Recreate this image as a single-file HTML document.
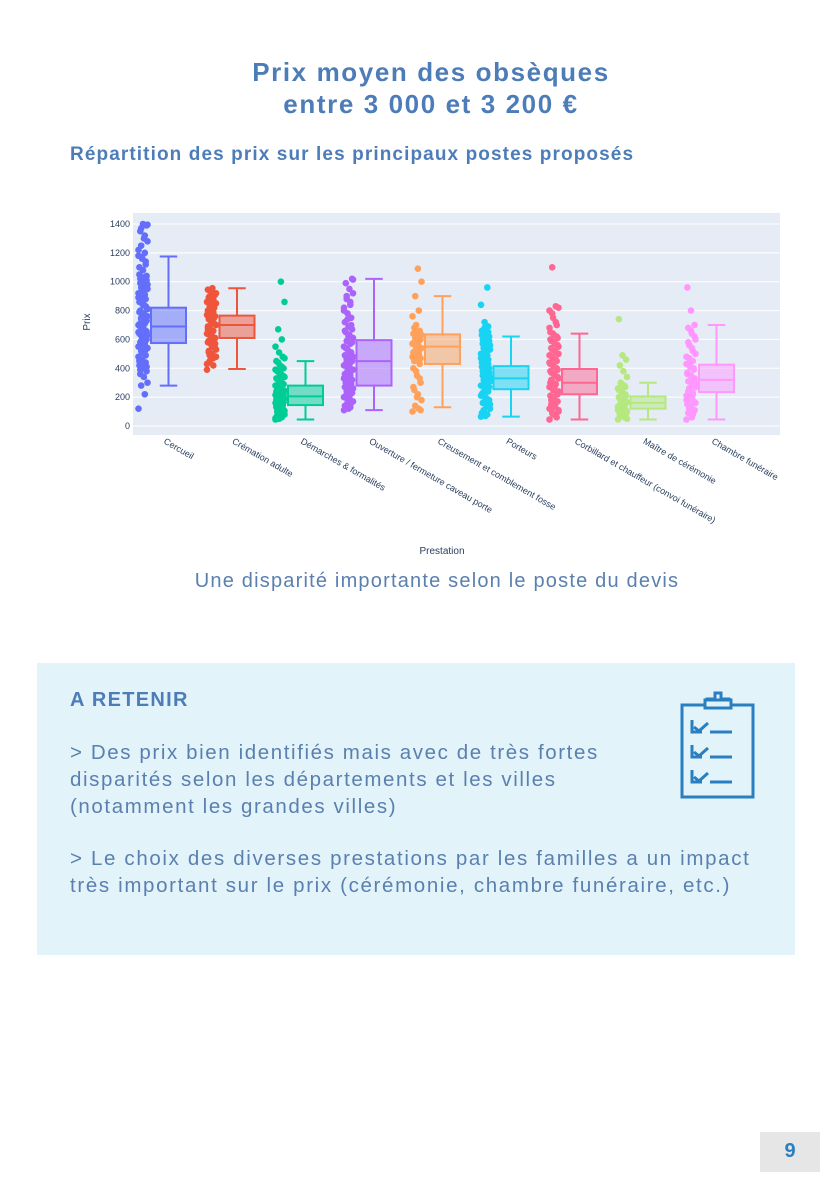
<!DOCTYPE html>
<html><head><meta charset="utf-8">
<style>
body{margin:0;background:#fff;}
#page{position:relative;width:838px;height:1190px;overflow:hidden;font-family:"Liberation Sans",sans-serif;color:#4a7ab5;}
.t{position:absolute;white-space:nowrap;}
</style></head><body>
<div id="page">
<div class="t" style="left:0;width:862px;text-align:center;top:56px;font-size:26px;font-weight:bold;line-height:32px;letter-spacing:1.6px;color:#4d7db8;">Prix moyen des obsèques<br>entre 3 000 et 3 200 €</div>
<div class="t" style="left:70px;top:144px;font-size:19px;font-weight:bold;letter-spacing:1.1px;color:#4d7db8;">Répartition des prix sur les principaux postes proposés</div>
<svg id="chart" width="838" height="560" style="position:absolute;left:0;top:0;"></svg>
<div class="t" style="left:0;width:874px;text-align:center;top:570px;font-size:20px;letter-spacing:1.2px;color:#5a80b0;">Une disparité importante selon le poste du devis</div>
<div style="position:absolute;left:37px;top:663px;width:758px;height:292px;background:#e3f3fa;">
<div class="t" style="left:33px;top:26px;font-size:20px;font-weight:bold;letter-spacing:1.3px;color:#4d7db8;">A RETENIR</div>
<div class="t" style="left:33px;top:76px;font-size:20.5px;line-height:27px;letter-spacing:1.6px;color:#5a80b0;">&gt; Des prix bien identifiés mais avec de très fortes<br>disparités selon les départements et les villes<br>(notamment les grandes villes)</div>
<div class="t" style="left:33px;top:182px;font-size:20.5px;line-height:27px;letter-spacing:1.65px;color:#5a80b0;">&gt; Le choix des diverses prestations par les familles a un impact<br>très important sur le prix (cérémonie, chambre funéraire, etc.)</div>
<svg width="90" height="120" style="position:absolute;left:640px;top:25px;" fill="none" stroke="#2a7fc0" stroke-width="3">
<rect x="5" y="17" width="71" height="92"/>
<path d="M30 17 v-6 h8 v-6 h6 v6 h8 v6"/><rect x="28" y="12" width="26" height="8" fill="#e3f3fa"/>
<path d="M15 32 v12 h10 M17 39 l5 4 l9 -8 M33 44 h22"/>
<path d="M15 57 v12 h10 M17 64 l5 4 l9 -8 M33 69 h22"/>
<path d="M15 82 v12 h10 M17 89 l5 4 l9 -8 M33 94 h22"/>
</svg>
</div>
<div style="position:absolute;left:760px;top:1132px;width:60px;height:40px;background:#e6e6e6;"></div>
<div class="t" style="left:760px;width:60px;text-align:center;top:1140px;font-size:20px;font-weight:bold;color:#2a7fc0;">9</div>
</div>
<script>
const categories=["Cercueil","Crémation adulte","Démarches & formalités","Ouverture / fermeture caveau porte","Creusement et comblement fosse","Porteurs","Corbillard et chauffeur (convoi funéraire)","Maître de cérémonie","Chambre funéraire"];
const colors=["#636efa","#EF553B","#00cc96","#ab63fa","#FFA15A","#19d3f3","#FF6692","#B6E880","#FF97FF"];
const lowWhisker=[280,395,45,110,130,65,45,45,45];
const q1=[575,610,145,280,430,255,220,120,235];
const median=[690,700,205,450,550,330,300,160,320];
const q3=[820,765,280,595,635,415,395,205,425];
const highWhisker=[1175,955,450,1020,900,620,640,300,700];
const points=[
[120,220,280,300,340,360,380,400,420,440,460,480,500,520,540,560,580,600,620,640,660,680,700,720,740,760,780,800,820,840,860,880,900,920,940,960,980,1000,1020,1040,1080,1100,1140,1160,1180,1200,1250,1280,1300,1350,1390,1400,470,530,610,650,710,750,810,870,390,410,430,450,490,510,550,570,590,630,670,690,730,770,790,830,850,890,910,930,950,970,990,1010,1030,1050,1120,1170,1220,1320,1370,1395,615,635,655,685,705,725,745],
[390,420,450,480,500,520,540,560,580,600,620,640,660,680,700,720,740,760,780,800,820,840,860,880,900,920,955,510,570,630,690,750,810,430,470,490,530,550,590,610,650,670,710,730,770,790,830,850,870,890,910,930,945],
[45,60,70,80,90,100,110,120,130,140,150,160,170,180,190,200,210,220,230,240,250,260,280,300,320,340,360,380,400,420,450,480,510,550,600,670,860,1000,75,95,115,135,155,50,55,65,85,105,125,145,165,175,185,195,205,215,225,235,245,255,270,290,310,330,350,370,390,410,440,470],
[110,130,150,170,190,210,230,250,270,290,310,330,350,370,390,410,430,450,470,490,510,530,550,570,590,610,630,650,670,690,720,750,780,800,840,880,920,950,990,1020,120,140,160,180,200,220,240,260,280,300,320,340,360,380,400,420,440,460,480,500,540,580,620,660,700,740,820,860,900,1015],
[100,120,140,180,220,250,300,350,400,430,460,480,500,520,540,560,580,600,620,640,660,700,760,800,900,1000,1090,450,470,490,510,530,550,570,590,610,630,650,680,110,200,270,330,380],
[65,80,100,120,140,160,180,200,220,240,260,280,300,320,340,360,380,400,420,440,460,480,500,520,540,560,580,600,620,640,660,690,720,840,960,110,150,190,230,270,70,90,130,170,210,250,290,310,330,350,370,390,410,430,450,470,490,510,530,550,570,590,610,630,650,680],
[45,70,90,110,130,150,170,190,210,230,250,270,290,310,330,350,370,390,410,430,450,470,490,510,530,550,570,590,610,630,650,700,750,800,830,1100,100,140,180,220,260,300,60,80,120,160,200,240,280,320,340,360,380,400,420,440,460,480,500,520,540,560,580,600,620,640,680,720,780,820],
[45,60,80,100,120,140,160,180,200,220,240,260,280,300,340,380,420,460,490,740,70,90,110,130,150,50,65,75,85,95,105,115,125,135,145,155,165,175,190,210,230,250,270,290],
[45,80,120,160,200,240,280,320,360,400,440,480,520,560,600,640,680,700,800,960,100,140,180,220,260,300,60,90,110,130,150,170,190,210,230,250,270,290,310,330,350,370,390,410,430,450,470,500,540,580,620,660]
];
const yTicks=[0,200,400,600,800,1000,1200,1400];
const NS="http://www.w3.org/2000/svg";
const svg=document.getElementById('chart');
const L=133,R=780,T=213,B=435;
const y0=426,yk=(426-224)/1400;
function yScale(v){return y0-v*yk;}
const band=68.5;
function xBox(i){return 168.5+band*i;}
function xPts(i){return 143+band*i;}
function mk(tag,a){const e=document.createElementNS(NS,tag);for(const k in a)e.setAttribute(k,a[k]);svg.appendChild(e);return e;}
const bg=mk('rect',{x:L,y:T,width:R-L,height:B-T,fill:'#e5ecf6'});


yTicks.forEach(v=>{
 const g=mk('line',{x1:L,x2:R,y1:yScale(v),y2:yScale(v),stroke:'#fff','stroke-width':1});
 
 
 const t=mk('text',{x:L-3,y:yScale(v)+3,'text-anchor':'end','font-size':9,fill:'#2a3f5f','font-family':'Liberation Sans, sans-serif'});
 t.textContent=v;
 
 
});
const yt=mk('text',{x:90,y:322,'text-anchor':'middle','font-size':10,fill:'#2a3f5f','font-family':'Liberation Sans, sans-serif',transform:'rotate(-90 90 322)'});
yt.textContent='Prix';


const xt=mk('text',{x:442,y:554,'text-anchor':'middle','font-size':10,fill:'#2a3f5f','font-family':'Liberation Sans, sans-serif'});
xt.textContent='Prestation';


categories.forEach((c,i)=>{
 const col=colors[i];
 points[i].forEach((v,j)=>{
  const off=((j*7)%11)-5;
  const p=mk('circle',{cx:xPts(i)+off*0.9,cy:yScale(v),r:3.3,fill:col});
  
  
 });
 const cx=xBox(i),w=35;
 const wl=mk('path',{d:`M${cx} ${yScale(highWhisker[i])}V${yScale(q3[i])}M${cx} ${yScale(q1[i])}V${yScale(lowWhisker[i])}M${cx-w/4} ${yScale(highWhisker[i])}h${w/2}M${cx-w/4} ${yScale(lowWhisker[i])}h${w/2}`,stroke:col,'stroke-width':2,fill:'none'});
 
 
 const b=mk('rect',{x:cx-w/2,y:yScale(q3[i]),width:w,height:yScale(q1[i])-yScale(q3[i]),fill:col,'fill-opacity':0.5,stroke:col,'stroke-width':2});
 
 
 const m=mk('line',{x1:cx-w/2,x2:cx+w/2,y1:yScale(median[i]),y2:yScale(median[i]),stroke:col,'stroke-width':2});
 
 
 const tx=163+band*i,ty=443;
 const lab=mk('text',{x:tx,y:ty,'font-size':9,fill:'#2a3f5f','font-family':'Liberation Sans, sans-serif',transform:`rotate(30 ${tx} ${ty})`});
 lab.textContent=c;
 
 
});
</script>
</body></html>
